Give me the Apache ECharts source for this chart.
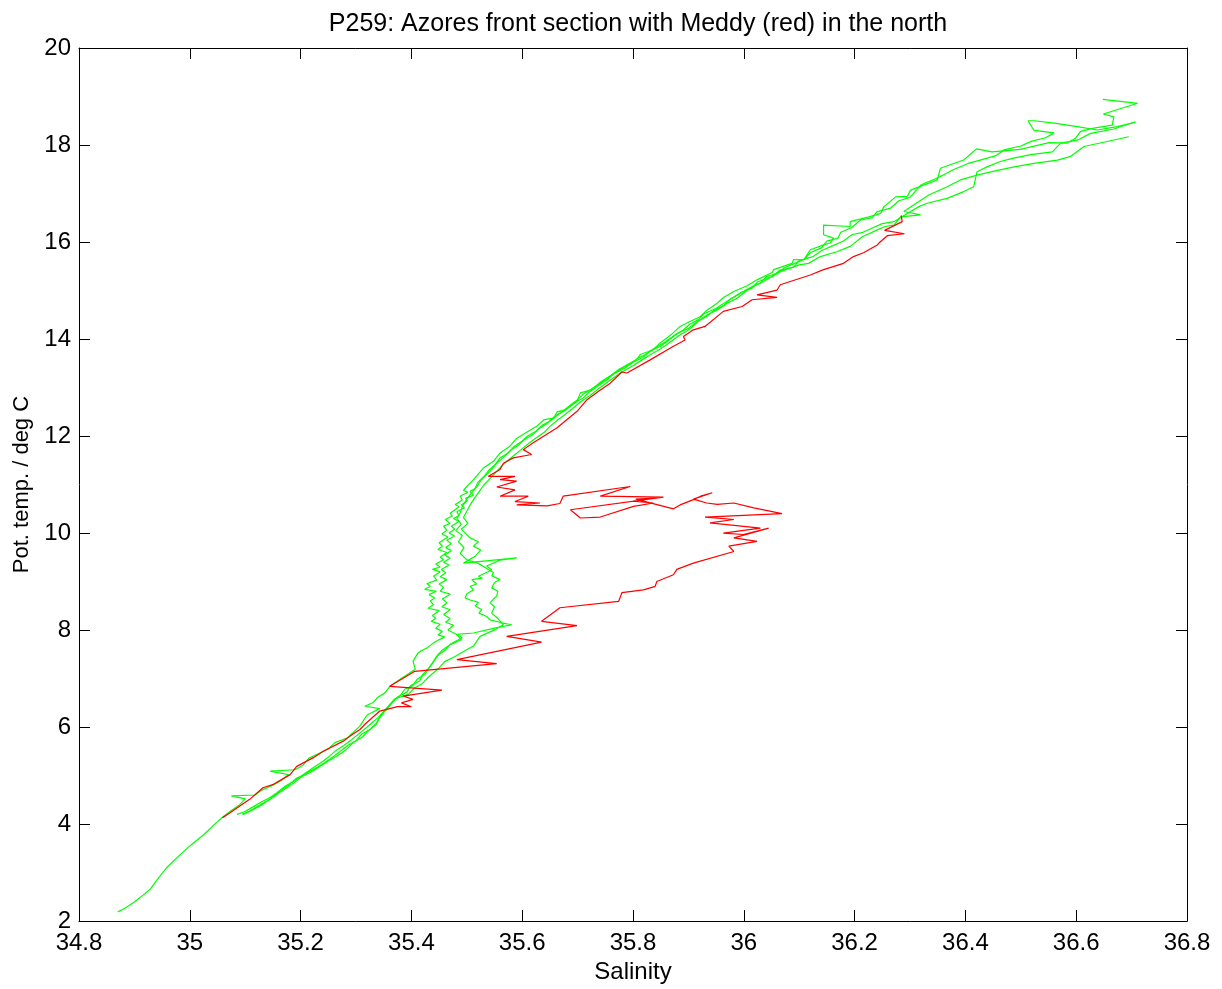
<!DOCTYPE html>
<html>
<head>
<meta charset="utf-8">
<script src="https://cdn.jsdelivr.net/npm/echarts@6/dist/echarts.min.js"></script>
<style>
  html, body { margin: 0; padding: 0; background: #ffffff; }
  #chart { width: 1222px; height: 989px; }
</style>
</head>
<body>
<div id="chart"></div>
<script>
// Theta-S section P259: potential temperature (deg C) against salinity.
const chartTitle = 'P259: Azores front section with Meddy (red) in the north';
const xName = 'Salinity';
const yName = 'Pot. temp. / deg C';
const xRange = [34.8, 36.8];
const xStep = 0.2;
const yRange = [2, 20];
const yStep = 2;

// Stations outside the Meddy, each as [salinity, pot. temp.] from surface down.
const stationA = [
  [36.648,18.94],[36.711,18.86],[36.649,18.64],[36.668,18.58],[36.665,18.41],[36.632,18.35],
  [36.608,18.28],[36.599,18.14],[36.584,18.04],[36.551,18.05],[36.499,17.91],[36.448,17.86],
  [36.420,17.92],[36.397,17.69],[36.355,17.52],[36.349,17.28],[36.301,17.07],[36.295,16.94],
  [36.274,16.93],[36.253,16.73],[36.247,16.59],[36.226,16.52],[36.192,16.42],[36.192,16.32],
  [36.144,16.35],[36.144,16.15],[36.162,16.08],[36.156,15.98],[36.144,15.94],[36.120,15.84],
  [36.108,15.63],[36.090,15.64],[36.087,15.56],[36.054,15.43],[36.051,15.37],[36.024,15.22],
  [36.006,15.10],[35.982,14.98],[35.964,14.86],[35.952,14.74],[35.934,14.60],[35.921,14.46],
  [35.903,14.36],[35.885,14.26],[35.870,14.10],[35.849,13.92],[35.837,13.78],[35.813,13.68],
  [35.807,13.58],[35.789,13.47],[35.771,13.33],[35.741,13.09],[35.723,12.95],[35.705,12.89],
  [35.699,12.71],[35.678,12.54],[35.663,12.50],[35.657,12.37],[35.640,12.34],[35.626,12.20],
  [35.608,12.08],[35.590,11.95],[35.578,11.79],[35.560,11.65],[35.548,11.48],[35.530,11.34],
  [35.512,11.10],[35.500,10.96],[35.494,10.88],[35.502,10.84],[35.488,10.76],[35.492,10.68],
  [35.479,10.59],[35.486,10.54],[35.470,10.41],[35.474,10.35],[35.461,10.28],[35.470,10.20],
  [35.458,10.14],[35.464,10.06],[35.455,9.98],[35.466,9.92],[35.450,9.80],[35.456,9.73],
  [35.448,9.66],[35.464,9.60],[35.452,9.50],[35.458,9.45],[35.444,9.36],[35.452,9.30],
  [35.438,9.25],[35.452,9.20],[35.440,9.11],[35.446,9.03],[35.428,8.96],[35.434,8.90],
  [35.424,8.84],[35.445,8.80],[35.432,8.73],[35.442,8.66],[35.434,8.60],[35.440,8.52],
  [35.430,8.45],[35.450,8.40],[35.438,8.30],[35.444,8.24],[35.436,8.18],[35.452,8.12],
  [35.444,8.04],[35.456,7.97],[35.448,7.90],[35.460,7.86],[35.443,7.76],[35.436,7.70],
  [35.428,7.63],[35.416,7.56],[35.412,7.53],[35.403,7.36],[35.407,7.19],[35.383,7.01],
  [35.361,6.84],[35.352,6.70],[35.340,6.62],[35.330,6.50],[35.316,6.43],[35.343,6.38],
  [35.320,6.25],[35.307,6.02],[35.296,5.90],[35.285,5.78],[35.262,5.68],[35.250,5.55],
  [35.232,5.45],[35.215,5.36],[35.205,5.22],[35.190,5.12],[35.145,5.09],[35.178,5.02],
  [35.165,4.90],[35.150,4.80],[35.130,4.70],[35.118,4.60],[35.075,4.58],[35.100,4.52],
  [35.090,4.40],[35.075,4.28],[35.060,4.15],[35.048,4.03],[35.025,3.78],[35.000,3.55],
  [34.978,3.32],[34.958,3.10],[34.943,2.88],[34.928,2.65],[34.912,2.50],[34.898,2.38],
  [34.882,2.26],[34.870,2.19]
];

const stationB = [
  [36.707,18.47],[36.674,18.38],[36.638,18.31],[36.602,18.38],[36.560,18.45],[36.524,18.50],
  [36.513,18.50],[36.524,18.30],[36.560,18.25],[36.545,18.15],[36.520,18.08],[36.500,17.98],
  [36.470,17.90],[36.455,17.78],[36.430,17.70],[36.405,17.62],[36.380,17.50],[36.360,17.38],
  [36.345,17.30],[36.320,17.18],[36.310,17.05],[36.300,16.92],[36.280,16.85],[36.265,16.70],
  [36.240,16.62],[36.232,16.50],[36.210,16.45],[36.195,16.30],[36.175,16.20],[36.170,16.08],
  [36.150,16.02],[36.140,15.88],[36.120,15.78],[36.110,15.65],[36.090,15.55],[36.075,15.48],
  [36.060,15.35],[36.040,15.28],[36.030,15.15],[36.010,15.05],[35.995,14.95],[35.975,14.82],
  [35.965,14.70],[35.945,14.58],[35.935,14.48],[35.915,14.35],[35.900,14.22],[35.880,14.12],
  [35.865,13.98],[35.850,13.85],[35.830,13.75],[35.818,13.62],[35.800,13.52],[35.785,13.40],
  [35.765,13.28],[35.752,13.15],[35.735,13.02],[35.720,12.90],[35.710,12.78],[35.692,12.68],
  [35.680,12.55],[35.665,12.45],[35.652,12.32],[35.636,12.22],[35.625,12.10],[35.610,12.00],
  [35.598,11.88],[35.585,11.78],[35.575,11.65],[35.560,11.55],[35.552,11.42],[35.540,11.30],
  [35.532,11.18],[35.520,11.05],[35.515,10.92],[35.506,10.86],[35.512,10.78],[35.498,10.72],
  [35.501,10.66],[35.490,10.58],[35.496,10.52],[35.482,10.44],[35.486,10.36],[35.476,10.30],
  [35.486,10.24],[35.472,10.14],[35.478,10.08],[35.468,10.00],[35.478,9.94],[35.464,9.85],
  [35.472,9.78],[35.462,9.70],[35.472,9.64],[35.460,9.55],[35.470,9.48],[35.458,9.40],
  [35.468,9.34],[35.454,9.25],[35.462,9.18],[35.452,9.10],[35.464,9.04],[35.450,8.95],
  [35.458,8.88],[35.452,8.80],[35.470,8.74],[35.456,8.64],[35.464,8.56],[35.455,8.48],
  [35.470,8.42],[35.458,8.32],[35.470,8.24],[35.462,8.16],[35.476,8.10],[35.466,8.00],
  [35.480,7.92],[35.492,7.84],[35.478,7.76],[35.470,7.70],[35.460,7.62],[35.455,7.58],
  [35.445,7.45],[35.438,7.32],[35.430,7.20],[35.420,7.08],[35.415,6.95],[35.398,6.85],
  [35.392,6.72],[35.375,6.62],[35.365,6.50],[35.355,6.38],[35.345,6.25],[35.337,6.08],
  [35.325,5.95],[35.310,5.85],[35.300,5.72],[35.285,5.62],[35.272,5.50],[35.260,5.40],
  [35.245,5.28],[35.232,5.18],[35.215,5.08],[35.200,4.96],[35.188,4.85],[35.175,4.75],
  [35.162,4.65],[35.150,4.55],[35.135,4.45],[35.120,4.35],[35.105,4.25],[35.095,4.20]
];

const stationC = [
  [36.695,18.17],[36.614,17.97],[36.589,17.76],[36.566,17.69],[36.524,17.62],[36.488,17.55],
  [36.448,17.45],[36.421,17.38],[36.391,17.28],[36.367,17.14],[36.334,16.97],[36.307,16.77],
  [36.289,16.63],[36.319,16.56],[36.283,16.52],[36.271,16.35],[36.255,16.32],[36.241,16.25],
  [36.214,16.11],[36.192,15.91],[36.168,15.80],[36.138,15.70],[36.117,15.56],[36.100,15.53],
  [36.066,15.39],[36.036,15.19],[36.015,15.08],[36.003,14.98],[35.988,14.84],[35.970,14.74],
  [35.952,14.60],[35.934,14.50],[35.921,14.40],[35.910,14.28],[35.897,14.16],[35.885,14.09],
  [35.865,13.92],[35.850,13.80],[35.832,13.68],[35.815,13.56],[35.800,13.45],[35.780,13.32],
  [35.765,13.20],[35.750,13.08],[35.735,12.95],[35.722,12.83],[35.705,12.70],[35.692,12.58],
  [35.678,12.45],[35.665,12.34],[35.650,12.20],[35.640,12.08],[35.625,11.96],[35.612,11.85],
  [35.598,11.72],[35.585,11.60],[35.572,11.48],[35.560,11.35],[35.550,11.22],[35.540,11.10],
  [35.530,10.98],[35.522,10.85],[35.514,10.72],[35.506,10.58],[35.500,10.45],[35.494,10.32],
  [35.502,10.20],[35.490,10.08],[35.506,9.90],[35.521,9.82],[35.512,9.73],[35.525,9.65],
  [35.515,9.52],[35.494,9.38],[35.590,9.49],[35.560,9.44],[35.536,9.32],[35.545,9.24],
  [35.521,9.11],[35.528,9.07],[35.509,9.04],[35.518,8.95],[35.506,8.90],[35.512,8.83],
  [35.500,8.75],[35.497,8.66],[35.506,8.62],[35.521,8.57],[35.515,8.50],[35.527,8.42],
  [35.522,8.35],[35.536,8.28],[35.542,8.21],[35.563,8.15],[35.581,8.11],[35.550,8.04],
  [35.512,7.94],[35.482,7.91],[35.490,7.80],[35.470,7.70],[35.462,7.60],[35.448,7.48],
  [35.440,7.35],[35.432,7.22],[35.425,7.10],[35.410,6.98],[35.402,6.85],[35.388,6.78],
  [35.380,6.65],[35.368,6.55],[35.360,6.42],[35.350,6.30],[35.342,6.18],[35.336,6.05],
  [35.322,5.92],[35.312,5.80],[35.295,5.68],[35.283,5.54],[35.265,5.40],[35.250,5.30],
  [35.235,5.19],[35.215,5.05],[35.193,4.95],[35.178,4.80],[35.163,4.68],[35.148,4.55],
  [35.132,4.41],[35.115,4.30],[35.096,4.20]
];

const stationD = [
  [36.707,18.48],[36.668,18.33],[36.626,18.24],[36.602,18.10],[36.572,18.04],[36.557,17.86],
  [36.518,17.80],[36.487,17.73],[36.463,17.66],[36.439,17.55],[36.421,17.45],[36.415,17.14],
  [36.397,17.04],[36.367,16.90],[36.331,16.80],[36.316,16.73],[36.295,16.59],[36.271,16.42],
  [36.250,16.38],[36.230,16.28],[36.215,16.20],[36.195,16.15],[36.180,16.02],[36.160,15.92],
  [36.140,15.82],[36.125,15.70],[36.100,15.62],[36.090,15.48],[36.065,15.42],[36.050,15.28],
  [36.025,15.18],[36.015,15.05],[35.995,14.96],[35.980,14.85],[35.962,14.72],[35.948,14.62],
  [35.928,14.52],[35.918,14.40],[35.902,14.30],[35.890,14.18],[35.872,14.05],[35.858,13.94],
  [35.840,13.82],[35.826,13.70],[35.808,13.60],[35.795,13.48],[35.775,13.38],[35.760,13.25],
  [35.742,13.12],[35.730,13.00],[35.712,12.88],[35.700,12.75],[35.685,12.62],[35.672,12.50],
  [35.658,12.40],[35.645,12.26],[35.630,12.15],[35.618,12.02],[35.603,11.92],[35.592,11.80],
  [35.578,11.70],[35.566,11.56],[35.555,11.45],[35.545,11.32],[35.535,11.20],[35.525,11.08],
  [35.518,10.95],[35.508,10.82],[35.500,10.70],[35.492,10.55],[35.488,10.42],[35.482,10.30],
  [35.490,10.18],[35.480,10.05],[35.492,9.95],[35.485,9.82],[35.495,9.70],[35.488,9.58],
  [35.500,9.45],[35.520,9.38],[35.539,9.25],[35.548,9.18],[35.545,9.12],[35.560,9.04],
  [35.550,8.98],[35.545,8.87],[35.556,8.80],[35.554,8.70],[35.548,8.64],[35.542,8.56],
  [35.550,8.48],[35.545,8.35],[35.555,8.25],[35.566,8.11],[35.551,8.01],[35.524,7.87],
  [35.512,7.67],[35.494,7.56],[35.478,7.45],[35.460,7.35],[35.450,7.22],[35.440,7.12],
  [35.428,7.00],[35.420,6.90],[35.405,6.80],[35.395,6.68],[35.370,6.58],[35.360,6.45],
  [35.350,6.32],[35.340,6.20],[35.330,6.10],[35.318,5.98],[35.305,5.86],[35.292,5.74],
  [35.278,5.62],[35.262,5.50],[35.250,5.38],[35.236,5.26],[35.220,5.14],[35.205,5.02],
  [35.190,4.90],[35.172,4.78],[35.158,4.65],[35.145,4.55],[35.128,4.45],[35.115,4.36],
  [35.098,4.25],[35.085,4.20]
];

// Meddy station (northern end), [salinity, pot. temp.] from surface down.
const meddyStation = [
  [36.284,16.55],[36.286,16.42],[36.254,16.24],[36.290,16.17],[36.259,16.13],[36.245,15.99],
  [36.241,15.94],[36.216,15.78],[36.198,15.70],[36.180,15.56],[36.144,15.43],[36.120,15.32],
  [36.066,15.12],[36.060,15.01],[36.024,14.91],[36.060,14.86],[36.015,14.81],[35.997,14.67],
  [35.963,14.57],[35.930,14.26],[35.909,14.19],[35.891,14.05],[35.894,13.98],[35.873,13.85],
  [35.831,13.57],[35.789,13.30],[35.780,13.32],[35.759,13.09],[35.741,12.95],[35.717,12.75],
  [35.699,12.51],[35.681,12.34],[35.663,12.17],[35.638,11.99],[35.620,11.86],[35.602,11.72],
  [35.617,11.62],[35.584,11.55],[35.566,11.44],[35.560,11.31],[35.539,11.17],[35.587,11.17],
  [35.560,11.10],[35.590,11.07],[35.554,10.95],[35.587,10.89],[35.560,10.76],[35.611,10.76],
  [35.587,10.65],[35.632,10.62],[35.590,10.58],[35.645,10.56],[35.668,10.61],[35.674,10.76],
  [35.795,10.96],[35.741,10.76],[35.855,10.74],[35.687,10.48],[35.705,10.31],[35.741,10.33],
  [35.801,10.55],[35.837,10.62],[35.800,10.66],[35.840,10.72],[35.805,10.70],[35.873,10.50],
  [35.885,10.58],[35.909,10.69],[35.922,10.76],[35.943,10.83],[35.909,10.70],[35.933,10.62],
  [35.952,10.59],[35.982,10.62],[36.018,10.52],[36.069,10.40],[35.930,10.33],[35.982,10.28],
  [35.939,10.21],[36.030,10.10],[35.963,10.00],[35.999,9.97],[36.045,10.10],[35.982,9.90],
  [36.024,9.83],[35.973,9.73],[35.982,9.62],[35.909,9.38],[35.879,9.25],[35.873,9.14],
  [35.843,9.00],[35.840,8.90],[35.819,8.83],[35.780,8.77],[35.774,8.59],[35.668,8.46],
  [35.635,8.18],[35.699,8.09],[35.572,7.87],[35.635,7.75],[35.482,7.39],[35.554,7.31],
  [35.406,7.15],[35.361,6.84],[35.455,6.76],[35.385,6.64],[35.403,6.57],[35.382,6.50],
  [35.400,6.42],[35.375,6.42],[35.343,6.33],[35.319,6.09],[35.307,5.95],[35.290,5.82],
  [35.277,5.71],[35.241,5.50],[35.223,5.37],[35.193,5.19],[35.181,5.02],[35.151,4.82],
  [35.132,4.75],[35.108,4.51],[35.072,4.23],[35.059,4.13]
];

const frontStations = [stationA, stationB, stationC, stationD];

const fontFamily = '"Liberation Sans", Arial, Helvetica, sans-serif';
const ink = '#000000';

function profileSeries(points, color) {
  return {
    type: 'line',
    data: points,
    xAxisIndex: 0,
    yAxisIndex: 0,
    showSymbol: false,
    symbol: 'none',
    smooth: false,
    silent: true,
    clip: true,
    lineStyle: { color: color, width: 1.2 },
    emphasis: { disabled: true }
  };
}

function frameAxis(extra) {
  return Object.assign({
    type: 'value',
    splitLine: { show: false },
    axisLine: { show: true, lineStyle: { color: ink, width: 1 } },
    axisTick: { show: true, inside: true, length: 11, lineStyle: { color: ink, width: 1 } }
  }, extra);
}

const chart = echarts.init(document.getElementById('chart'), null, { renderer: 'canvas' });

// Title centred over the plot frame rather than the whole page.
const gridBox = { left: 79, right: 35, top: 48, bottom: 67 };
const frameCentreX = (gridBox.left + (1222 - gridBox.right)) / 2;

chart.setOption({
  animation: false,
  backgroundColor: '#ffffff',
  title: {
    text: chartTitle,
    left: frameCentreX,
    textAlign: 'center',
    top: 7,
    textStyle: { fontFamily: fontFamily, fontSize: 25, fontWeight: 'normal', color: ink }
  },
  grid: Object.assign({ containLabel: false }, gridBox),
  xAxis: [
    frameAxis({
      position: 'bottom',
      min: xRange[0], max: xRange[1], interval: xStep,
      name: xName, nameLocation: 'middle', nameGap: 37,
      nameTextStyle: { fontFamily: fontFamily, fontSize: 24, color: ink },
      axisLabel: { show: true, margin: 10, fontFamily: fontFamily, fontSize: 24, color: ink }
    }),
    frameAxis({
      position: 'top',
      min: xRange[0], max: xRange[1], interval: xStep,
      axisLabel: { show: false }
    })
  ],
  yAxis: [
    frameAxis({
      position: 'left',
      min: yRange[0], max: yRange[1], interval: yStep,
      name: yName, nameLocation: 'middle', nameGap: 44, nameRotate: 90,
      nameTextStyle: { fontFamily: fontFamily, fontSize: 22, color: ink },
      axisLabel: { show: true, margin: 8, fontFamily: fontFamily, fontSize: 24, color: ink }
    }),
    frameAxis({
      position: 'right',
      min: yRange[0], max: yRange[1], interval: yStep,
      axisLabel: { show: false }
    })
  ],
  series: frontStations.map(p => profileSeries(p, '#00ff00'))
    .concat([profileSeries(meddyStation, '#ff0000')])
});
</script>
</body>
</html>
